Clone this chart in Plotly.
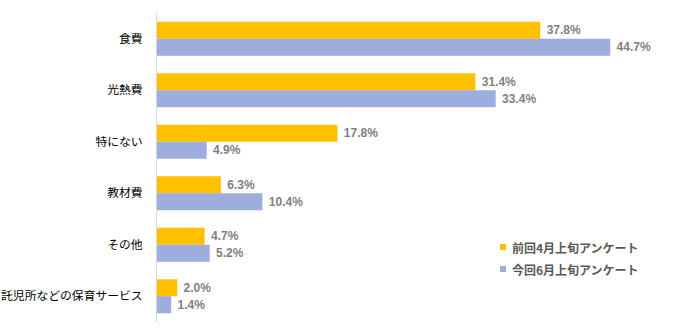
import plotly.graph_objects as go

categories = ["食費", "光熱費", "特にない", "教材費", "その他", "託児所などの保育サービス"]
prev_april = [37.8, 31.4, 17.8, 6.3, 4.7, 2.0]
curr_june = [44.7, 33.4, 4.9, 10.4, 5.2, 1.4]
series_names = ["前回4月上旬アンケート", "今回6月上旬アンケート"]
colors = ["#FFC000", "#9DADDE"]

FONT = "Noto Sans CJK JP"
L, R, T, B = 157, 26, 13, 14
W, H = 690, 336
PW, PH = W - L - R, H - T - B

fig = go.Figure()
for name, vals, col in zip(series_names, [prev_april, curr_june], colors):
    fig.add_trace(go.Bar(
        y=categories, x=vals, orientation="h", name=name,
        marker=dict(color=col, line=dict(width=0)),
        text=["\u00a0" + f"{v:.1f}%" for v in vals], textposition="outside",
        textfont=dict(family="Liberation Sans", size=12, color="#7F7F7F", weight="bold"),
        cliponaxis=False, showlegend=False,
    ))

# custom legend (small square + text), positioned in paper coordinates
leg_px = [(500, 247), (500, 269)]
for (px, py), name, col in zip(leg_px, series_names, colors):
    xp = (px - L) / PW
    yp = (H - B - py) / PH
    fig.add_shape(type="rect", xref="paper", yref="paper",
                  x0=xp, x1=xp + 6 / PW, y0=yp - 3 / PH, y1=yp + 3 / PH,
                  fillcolor=col, line=dict(width=0))
    fig.add_annotation(xref="paper", yref="paper", x=xp + 10 / PW, y=yp,
                       xanchor="left", yanchor="middle", showarrow=False, text=name,
                       font=dict(family=FONT, size=12, color="#595959", weight="bold"))

fig.update_layout(
    width=W, height=H,
    margin=dict(l=L, r=R, t=T, b=B),
    paper_bgcolor="white", plot_bgcolor="white",
    barmode="group", bargap=0.34, bargroupgap=0,
    showlegend=False,
    font=dict(family=FONT, size=12, color="#000000"),
    xaxis=dict(range=[0, 50], showgrid=False, zeroline=False, showticklabels=False,
               showline=False, automargin=False),
    yaxis=dict(autorange="reversed", showgrid=False, showline=True, linecolor="#D9D9D9", linewidth=1,
               ticks="", ticklabelstandoff=11, automargin=False,
               tickfont=dict(family=FONT, size=11.8, color="#000000")),
)

fig.write_html("out.html")
